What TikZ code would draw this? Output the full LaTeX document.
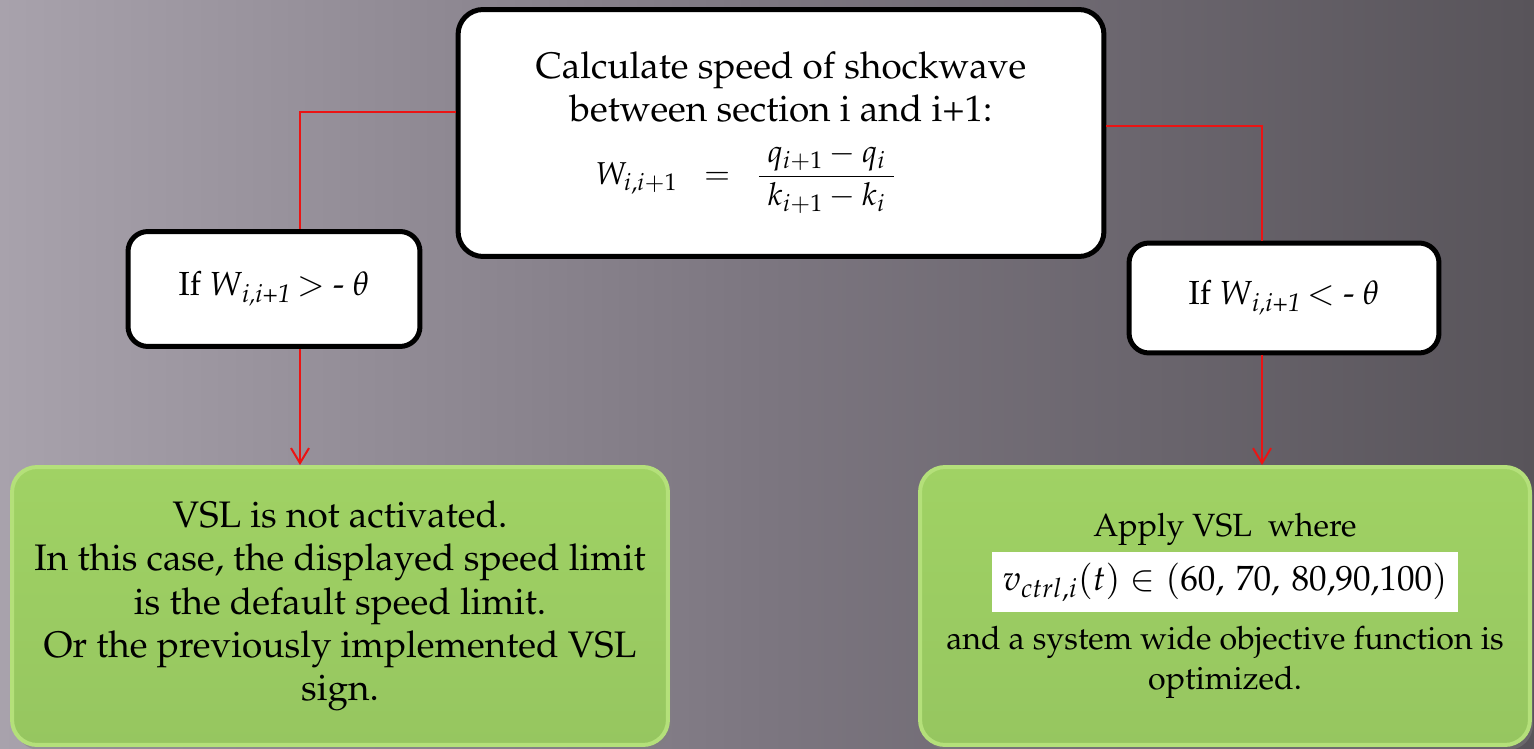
\documentclass[tikz,border=0pt]{standalone}
\usepackage{amsmath,amssymb}
\usepackage[T1]{fontenc}
\usepackage{mathpazo}
\usepackage{tikz}
\usetikzlibrary{arrows.meta,shadows}

\definecolor{bgleft}{RGB}{168,162,172}
\definecolor{bgmid}{RGB}{124,118,128}
\definecolor{bgright}{RGB}{88,84,90}
\definecolor{vsltop}{RGB}{160,210,100}
\definecolor{vslbottom}{RGB}{150,198,96}
\definecolor{vslrim}{RGB}{180,224,122}
\definecolor{linkred}{RGB}{235,20,20}

\begin{document}
\begin{tikzpicture}[x=0.02cm, y=-0.02cm,
    >={Straight Barb[length=0.3cm,width=0.36cm]},
    whitebox/.style={draw=black, line width=0.1cm, fill=white, rounded corners=0.5cm,
        align=center, inner sep=0pt},
    greenbox/.style={draw=vslrim, line width=0.08cm, top color=vsltop, bottom color=vslbottom,
        rounded corners=0.5cm, align=center, inner sep=0pt,
        drop shadow={opacity=0.45, shadow xshift=0.06cm, shadow yshift=-0.1cm}},
    link/.style={draw=linkred, line width=0.04cm}]
    % Background
    \shade[left color=bgleft, right color=bgright, middle color=bgmid] (0,0) rectangle (1534,749);
    \useasboundingbox (0,0) rectangle (1534,749);

    % Shockwave box
    \node[whitebox, minimum width=12.92cm, minimum height=4.94cm,
          font=\fontsize{21}{24.5}\selectfont] (wave) at (781,133)
        {Calculate speed of shockwave\\
         between section i and i+1:\\[11pt]
         {\fontsize{18}{21}\selectfont $W_{i,i+1} \;\;=\;\; \dfrac{\;q_{i+1}-q_i\;}{\;k_{i+1}-k_i\;}$}\hspace*{1.4cm}};

    % Conditions
    \node[whitebox, minimum width=5.84cm, minimum height=2.3cm, rounded corners=0.4cm,
          font=\fontsize{19}{23}\selectfont] (condlow) at (274,289)
        {If \textit{W}\textsubscript{\textit{i,i+1}}\,$>$ - $\theta$};
    \node[whitebox, minimum width=6.2cm, minimum height=2.2cm, rounded corners=0.4cm,
          font=\fontsize{19}{23}\selectfont] (condhigh) at (1284,298)
        {If \textit{W}\textsubscript{\textit{i,i+1}}\,$<$ - $\theta$};

    % Results
    \node[greenbox, minimum width=13.12cm, minimum height=5.56cm,
          font=\fontsize{21}{24.6}\selectfont] (novsl) at (340,606)
        {VSL is not activated.\\
         In this case, the displayed speed limit\\
         is the default speed limit.\\
         Or the previously implemented VSL\\
         sign.};
    \node[greenbox, minimum width=12.2cm, minimum height=5.56cm,
          font=\fontsize{18.3}{22.8}\selectfont] (applyvsl) at (1225,606)
        {Apply VSL~ where\\[3pt]
         {\setlength{\fboxsep}{6pt}\colorbox{white}{\fontsize{20}{24}\selectfont $v_{ctrl,i}(t) \in (60,\,70,\,80,\!90,\!100)$}}\\[7pt]
         and a system wide objective function is\\
         optimized.};

    % Connectors
    \draw[link] ([yshift=0.41cm]wave.west) -| ([xshift=0.52cm]condlow.north);
    \draw[link] ([yshift=0.13cm]wave.east) -| ([xshift=-0.44cm]condhigh.north);
    \draw[link,->] ([xshift=0.52cm]condlow.south) -- ([xshift=0.52cm]condlow.south |- novsl.north);
    \draw[link,->] ([xshift=-0.44cm]condhigh.south) -- ([xshift=-0.44cm]condhigh.south |- applyvsl.north);
\end{tikzpicture}
\end{document}
